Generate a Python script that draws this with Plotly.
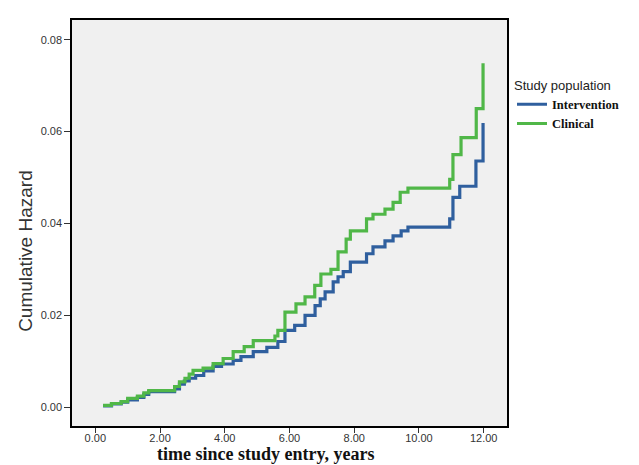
import plotly.graph_objects as go

# Intervention (blue) step curve: times (years) and cumulative hazard
int_time = [0.24, 0.5, 0.8, 1.0, 1.3, 1.5, 1.65, 2.45, 2.6, 2.75, 2.9, 3.1, 3.35, 3.64, 3.9, 4.26, 4.5, 4.88,
            5.3, 5.64, 5.86, 6.16, 6.48, 6.79, 6.95, 7.1, 7.35, 7.5, 7.66, 7.88, 8.38, 8.58, 8.95, 9.2, 9.45,
            9.66, 10.95, 11.05, 11.26, 11.76, 11.98]
int_haz = [0.0003, 0.0007, 0.0011, 0.0016, 0.0021, 0.0028, 0.0034, 0.0040, 0.0050, 0.0057, 0.0063, 0.0069,
           0.0079, 0.0089, 0.0094, 0.0102, 0.0110, 0.0121, 0.0130, 0.0143, 0.0167, 0.0178, 0.0200, 0.0221,
           0.0236, 0.0251, 0.0273, 0.0284, 0.0295, 0.0316, 0.0334, 0.0349, 0.0362, 0.0373, 0.0384, 0.0392,
           0.0410, 0.0457, 0.0481, 0.0536, 0.0619]

# Clinical (green) step curve
cli_time = [0.24, 0.5, 0.8, 1.0, 1.3, 1.5, 1.65, 2.45, 2.6, 2.77, 2.9, 3.02, 3.33, 3.64, 3.95, 4.26, 4.6, 4.88,
            5.55, 5.64, 5.86, 6.2, 6.48, 6.78, 6.97, 7.28, 7.5, 7.75, 7.88, 8.38, 8.58, 8.95, 9.2, 9.42, 9.66,
            10.95, 11.05, 11.3, 11.77, 11.98]
cli_haz = [0.0004, 0.0008, 0.0012, 0.0019, 0.0024, 0.0031, 0.0036, 0.0045, 0.0055, 0.0063, 0.0072, 0.0080,
           0.0085, 0.0095, 0.0106, 0.0121, 0.0132, 0.0145, 0.0155, 0.0167, 0.0207, 0.0225, 0.0240, 0.0265,
           0.0290, 0.0300, 0.0338, 0.0366, 0.0384, 0.0410, 0.0420, 0.0431, 0.0446, 0.0468, 0.0477, 0.0496,
           0.0550, 0.0587, 0.0650, 0.0749]

x_ticks = [0, 2, 4, 6, 8, 10, 12]
x_tick_labels = ["0.00", "2.00", "4.00", "6.00", "8.00", "10.00", "12.00"]
y_ticks = [0.0, 0.02, 0.04, 0.06, 0.08]
y_tick_labels = ["0.00", "0.02", "0.04", "0.06", "0.08"]

BLUE = "#2f5f9e"
GREEN = "#50b748"

fig = go.Figure()
fig.add_trace(go.Scatter(x=int_time, y=int_haz, mode="lines", line_shape="hv",
                         line=dict(color=BLUE, width=3.2), name="Intervention"))
fig.add_trace(go.Scatter(x=cli_time, y=cli_haz, mode="lines", line_shape="hv",
                         line=dict(color=GREEN, width=3.2), name="Clinical"))

W, H = 639, 465
L, R, T, B = 64, 140, 10, 47
PW, PH = W - L - R, H - T - B

def px_x(p):
    return (p - L) / PW

def px_y(p):
    return (H - B - p) / PH

fig.update_layout(
    width=W, height=H,
    margin=dict(l=L, r=R, t=T, b=B),
    paper_bgcolor="white",
    plot_bgcolor="#f0f0f0",
    showlegend=True,
    legend=dict(
        x=px_x(504), y=px_y(63), xanchor="left", yanchor="top",
        title=dict(text="Study population",
                   font=dict(family="Arial, Liberation Sans", size=13, color="#222", weight="normal")),
        font=dict(family="Liberation Serif, Times New Roman", size=12.5, color="#111", weight="bold"),
        bgcolor="rgba(0,0,0,0)", tracegroupgap=0, itemwidth=30,
    ),
    xaxis=dict(
        range=[-0.72, 12.72], tickvals=x_ticks, ticktext=x_tick_labels,
        showgrid=False, zeroline=False, showline=True, linecolor="black", linewidth=1.5,
        mirror=True, ticks="outside", ticklen=5, tickcolor="#333",
        tickfont=dict(family="Arial, Liberation Sans", size=11, color="#333"),
        ticklabelstandoff=-4,
    ),
    yaxis=dict(
        range=[-0.0041, 0.0843], tickvals=y_ticks, ticktext=y_tick_labels,
        showgrid=False, zeroline=False, showline=True, linecolor="black", linewidth=1.5,
        mirror=True, ticks="outside", ticklen=6, tickcolor="#333",
        tickfont=dict(family="Arial, Liberation Sans", size=11, color="#333"),
    ),
    annotations=[
        dict(text="Cumulative Hazard", textangle=-90, xref="paper", yref="paper",
             x=px_x(18), y=px_y(242), xanchor="center", yanchor="middle", showarrow=False,
             font=dict(family="Arial, Liberation Sans", size=19, color="#333")),
        dict(text="<b>time since study entry, years</b>", xref="paper", yref="paper",
             x=px_x(257), y=px_y(446), xanchor="center", yanchor="middle", showarrow=False,
             font=dict(family="Liberation Serif, Times New Roman", size=18, color="#111")),
    ],
)

fig.write_html("out.html")
